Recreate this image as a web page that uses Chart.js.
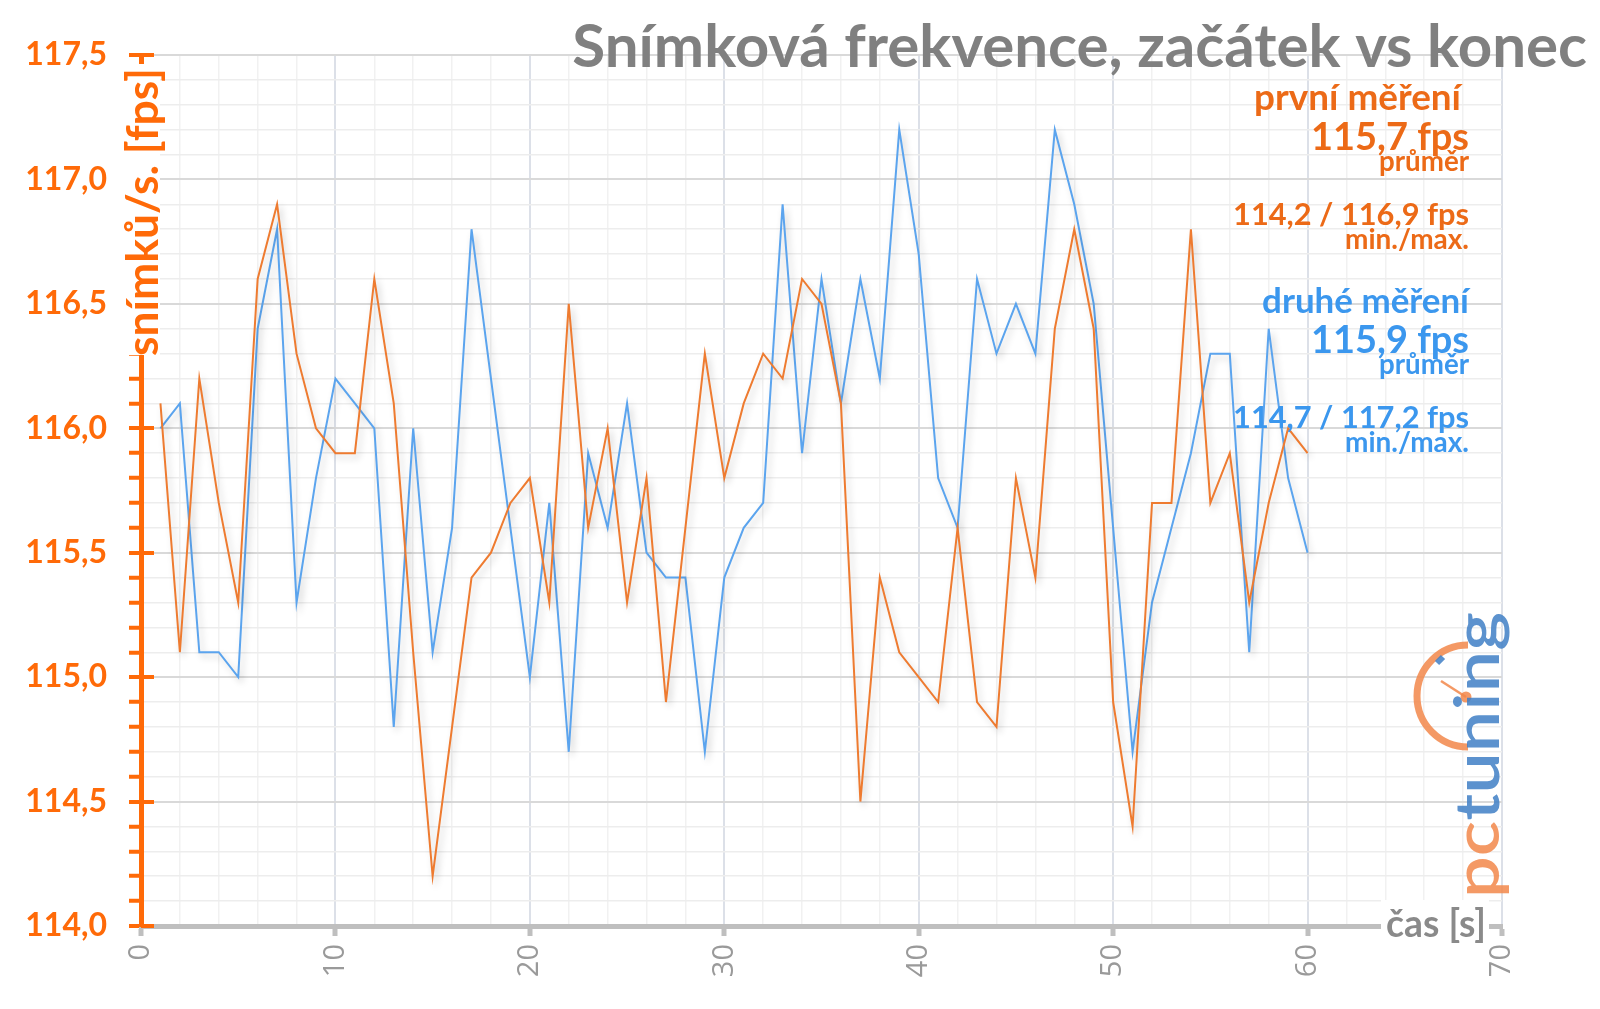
<!DOCTYPE html>
<html><head><meta charset="utf-8">
<script src="https://cdn.jsdelivr.net/npm/chart.js@4.4.1/dist/chart.umd.min.js"></script>
<style>html,body{margin:0;padding:0;background:#fff;} #wrap{width:1600px;height:1009px;position:relative;} canvas{display:block;}</style>
</head><body><div id="wrap"><canvas id="c" width="1600" height="1009"></canvas></div>
<script>
const seconds = [1,2,3,4,5,6,7,8,9,10,11,12,13,14,15,16,17,18,19,20,21,22,23,24,25,26,27,28,29,30,31,32,33,34,35,36,37,38,39,40,41,42,43,44,45,46,47,48,49,50,51,52,53,54,55,56,57,58,59,60];
const firstRun = [116.1,115.1,116.2,115.7,115.3,116.6,116.9,116.3,116.0,115.9,
  115.9,116.6,116.1,115.1,114.2,114.8,115.4,115.5,115.7,115.8,
  115.3,116.5,115.6,116.0,115.3,115.8,114.9,115.6,116.3,115.8,
  116.1,116.3,116.2,116.6,116.5,116.1,114.5,115.4,115.1,115.0,
  114.9,115.6,114.9,114.8,115.8,115.4,116.4,116.8,116.4,114.9,
  114.4,115.7,115.7,116.8,115.7,115.9,115.3,115.7,116.0,115.9];
const secondRun = [116.0,116.1,115.1,115.1,115.0,116.4,116.8,115.3,115.8,116.2,
  116.1,116.0,114.8,116.0,115.1,115.6,116.8,116.2,115.6,115.0,
  115.7,114.7,115.9,115.6,116.1,115.5,115.4,115.4,114.7,115.4,
  115.6,115.7,116.9,115.9,116.6,116.1,116.6,116.2,117.2,116.7,
  115.8,115.6,116.6,116.3,116.5,116.3,117.2,116.9,116.5,115.6,
  114.7,115.3,115.6,115.9,116.3,116.3,115.1,116.4,115.8,115.5];
const yRange = [114, 117.5];
const xRange = [0, 70];
const chartTitle = 'Snímková frekvence, začátek vs konec';
const yAxisTitle = 'snímků/s. [fps]';
const xAxisTitle = 'čas [s]';
const seriesNames = ['první měření', 'druhé měření'];
const averageLabels = ['115,7 fps', '115,9 fps'];
const averageCaption = 'průměr';
const minMaxLabels = ['114,2 / 116,9 fps', '114,7 / 117,2 fps'];
const minMaxCaption = 'min./max.';

const ORANGE_LINE = '#EE7B30';
const BLUE_LINE = '#5BA4EE';
const ORANGE_TXT = '#EC6A17';
const BLUE_TXT = '#3B97EE';
const AXIS_ORANGE = '#FF6A08';
const GRAY_TXT = '#808080';
const FONT = 'Lato, "Open Sans", sans-serif';

const isHalf = v => Math.abs(v * 2 - Math.round(v * 2)) < 1e-6;
const isTen = v => Math.abs(v / 10 - Math.round(v / 10)) < 1e-6;

function fitFont(ctx, text, weight, target, base) {
  ctx.font = `${weight} ${base}px ${FONT}`;
  const w = ctx.measureText(text).width;
  const size = base * target / w;
  ctx.font = `${weight} ${size}px ${FONT}`;
  return size;
}

const shadowPlugin = {
  id: 'shadow',
  beforeDatasetDraw(chart) {
    const c = chart.ctx; c.save();
    c.shadowColor = 'rgba(0,0,0,0.20)'; c.shadowBlur = 7; c.shadowOffsetX = 3; c.shadowOffsetY = 4;
  },
  afterDatasetDraw(chart) { chart.ctx.restore(); }
};

const overlayPlugin = {
  id: 'overlay',
  afterDraw(chart) {
    const { ctx, chartArea: a, scales: { y } } = chart;
    ctx.save();
    // major y ticks crossing the axis
    ctx.strokeStyle = AXIS_ORANGE; ctx.lineWidth = 4;
    y.ticks.forEach(t => {
      if (!isHalf(t.value)) return;
      const py = Math.round(y.getPixelForValue(t.value));
      ctx.beginPath(); ctx.moveTo(a.left, py); ctx.lineTo(a.left + 13, py); ctx.stroke();
    });
    // y axis title
    ctx.fillStyle = '#fff';
    ctx.fillRect(126, 64, 34, 291);
    ctx.save();
    ctx.translate(144, 212);
    ctx.rotate(-Math.PI / 2);
    ctx.fillStyle = AXIS_ORANGE;
    ctx.textAlign = 'center'; ctx.textBaseline = 'middle';
    fitFont(ctx, yAxisTitle, 'bold', 288, 36);
    ctx.fillText(yAxisTitle, 0, 0);
    ctx.restore();
    // x axis title
    ctx.fillStyle = '#fff';
    ctx.fillRect(1381, 900, 108, 40);
    ctx.fillStyle = '#8a8a8a';
    ctx.textAlign = 'left'; ctx.textBaseline = 'alphabetic';
    fitFont(ctx, xAxisTitle, 'bold', 100, 32);
    ctx.fillText(xAxisTitle, 1386, 937);
    // chart title
    ctx.fillStyle = GRAY_TXT;
    ctx.textAlign = 'right';
    fitFont(ctx, chartTitle, 'bold', 1015, 48);
    ctx.fillText(chartTitle, 1587, 67);
    // legend block
    const R = 1469;
    const block = (color, name, nameR, avg, mm, y0) => {
      ctx.fillStyle = color; ctx.textAlign = 'right';
      fitFont(ctx, name, 'bold', 207, 30); ctx.fillText(name, nameR, y0);
      fitFont(ctx, avg, 'bold', 158, 38); ctx.fillText(avg, R, y0 + 40);
      fitFont(ctx, averageCaption, 'bold', 90, 24); ctx.fillText(averageCaption, R, y0 + 61);
      fitFont(ctx, mm, 'bold', 236, 30); ctx.fillText(mm, R, y0 + 115);
      fitFont(ctx, minMaxCaption, 'bold', 124, 24); ctx.fillText(minMaxCaption, R, y0 + 139);
    };
    block(ORANGE_TXT, seriesNames[0], 1461, averageLabels[0], minMaxLabels[0], 110);
    block(BLUE_TXT, seriesNames[1], R, averageLabels[1], minMaxLabels[1], 313);
    // logo
    ctx.globalAlpha = 0.85;
    ctx.strokeStyle = '#F2874A'; ctx.lineWidth = 7;
    ctx.beginPath(); ctx.arc(1468, 696, 51, Math.PI * 0.5, Math.PI * 1.5); ctx.stroke();
    ctx.lineWidth = 2.5; ctx.beginPath(); ctx.moveTo(1466, 697); ctx.lineTo(1441, 681); ctx.stroke();
    ctx.fillStyle = '#F2874A'; ctx.beginPath(); ctx.arc(1466, 697, 5.5, 0, Math.PI * 2); ctx.fill();
    ctx.strokeStyle = '#3F7FC6'; ctx.lineWidth = 6;
    ctx.beginPath(); ctx.moveTo(1437, 663); ctx.lineTo(1443, 657); ctx.stroke();
    ctx.save();
    ctx.translate(1499, 898);
    ctx.rotate(-Math.PI / 2);
    ctx.scale(1, 0.82);
    ctx.textAlign = 'left'; ctx.textBaseline = 'alphabetic';
    fitFont(ctx, 'pctuning', '600', 286, 56);
    const wpc = ctx.measureText('pc').width;
    ctx.fillStyle = '#F2874A'; ctx.fillText('pc', 0, 0);
    ctx.fillStyle = '#3F7FC6'; ctx.fillText('tuning', wpc, 0);
    ctx.restore();
    ctx.restore();
  }
};

const ctx = document.getElementById('c').getContext('2d');
new Chart(ctx, {
  type: 'line',
  data: {
    datasets: [
      { label: seriesNames[0], data: seconds.map((t, i) => ({ x: t, y: firstRun[i] })),
        borderColor: ORANGE_LINE, borderWidth: 2, pointRadius: 0, tension: 0, fill: false },
      { label: seriesNames[1], data: seconds.map((t, i) => ({ x: t, y: secondRun[i] })),
        borderColor: BLUE_LINE, borderWidth: 2, pointRadius: 0, tension: 0, fill: false }
    ]
  },
  options: {
    responsive: false, animation: false, devicePixelRatio: 1,
    layout: { padding: { left: 0, right: 98, top: 55, bottom: 0 } },
    plugins: { legend: { display: false }, title: { display: false }, tooltip: { enabled: false } },
    scales: {
      x: {
        type: 'linear', min: xRange[0], max: xRange[1],
        afterFit: s => { s.height = 83; },
        border: { display: true, color: '#BFBFBF', width: 5 },
        grid: {
          color: c => isTen(c.tick.value) ? '#DCE0E8' : '#F1F1F1',
          lineWidth: c => isTen(c.tick.value) ? 2 : 1.5,
          drawTicks: true, tickLength: 10,
          tickColor: c => isTen(c.tick.value) ? '#BFBFBF' : 'rgba(0,0,0,0)',
          tickWidth: 5
        },
        ticks: {
          stepSize: 2, autoSkip: false, minRotation: 90, maxRotation: 90, padding: 8,
          color: '#9A9A9A', font: { family: '"Open Sans", sans-serif', size: 29 },
          callback: v => isTen(v) ? String(Math.round(v)) : ''
        }
      },
      y: {
        type: 'linear', min: yRange[0], max: yRange[1],
        afterFit: s => { s.width = 141; },
        border: { display: true, color: AXIS_ORANGE, width: 5 },
        grid: {
          color: c => isHalf(c.tick.value) ? '#D9D9D9' : '#EDEDED',
          lineWidth: c => isHalf(c.tick.value) ? 2 : 1.5,
          drawTicks: true, tickLength: 12, tickColor: AXIS_ORANGE, tickWidth: 4
        },
        ticks: {
          stepSize: 0.1, autoSkip: false, padding: 22,
          color: AXIS_ORANGE, font: { family: FONT, size: 32, weight: 'bold' },
          callback: v => isHalf(v) ? v.toFixed(1).replace('.', ',') : ''
        }
      }
    }
  },
  plugins: [shadowPlugin, overlayPlugin]
});
</script></body></html>
